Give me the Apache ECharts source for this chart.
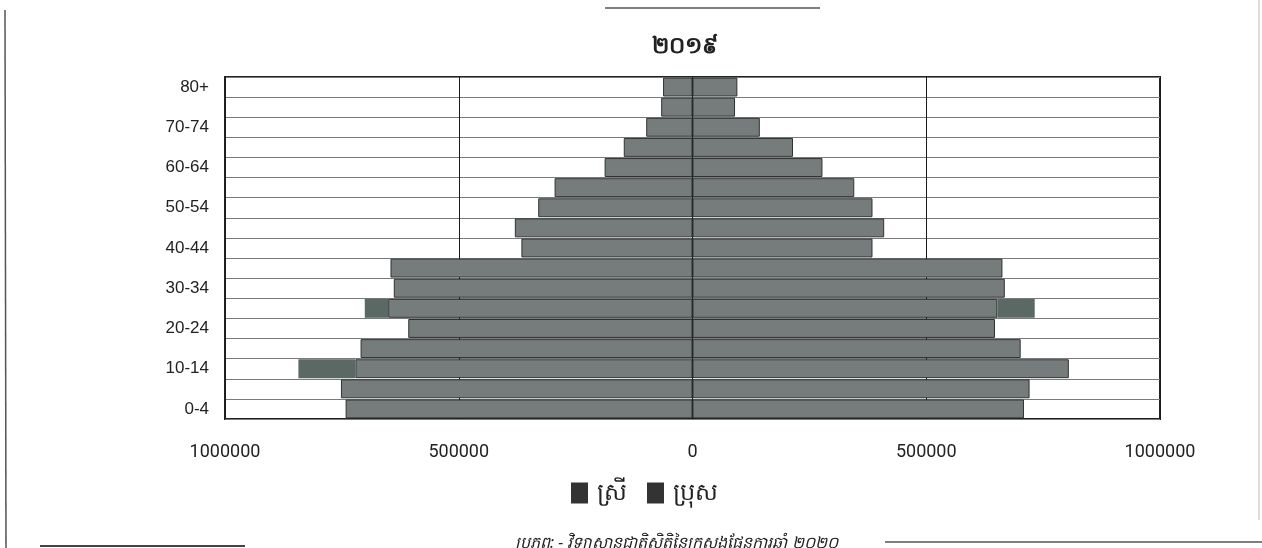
<!DOCTYPE html>
<html>
<head>
<meta charset="utf-8">
<script src="https://cdn.jsdelivr.net/npm/echarts@6/dist/echarts.min.js"></script>
<style>
html,body{margin:0;padding:0;background:#fff;}
#chart{width:1262px;height:548px;}
</style>
</head>
<body>
<div id="chart"></div>
<script>
var titleText = '២០១៩';
var sourceText = 'ប្រភព: - វិទ្យាស្ថានជាតិស្ថិតិនៃក្រសួងផែនការឆ្នាំ ២០២០';
var ageGroups = ['0-4','5-9','10-14','15-19','20-24','25-29','30-34','35-39','40-44','45-49','50-54','55-59','60-64','65-69','70-74','75-79','80+'];
var femaleName = 'ស្រី';
var maleName = 'ប្រុស';
// left side (bottom to top)
var female = [742000,752000,721000,710000,608000,651000,639000,646000,366000,380000,330000,295000,188000,147000,99000,67000,63000];
// darker overlaid segments beyond the left bars
var femaleExtra = [0,0,122000,0,0,50000,0,0,0,0,0,0,0,0,0,0,0];
// right side (bottom to top)
var male = [709000,721000,805000,702000,647000,652000,668000,663000,385000,410000,385000,346000,278000,215000,144000,91000,96000];
var maleExtra = [0,0,0,0,0,80000,0,0,0,0,0,0,0,0,0,0,0];
var xTicks = [-1000000,-500000,0,500000,1000000];

var barStyle = {color:'#767c7b', borderColor:'#2f3332', borderWidth:1};
var extraStyle = {color:'#5a6963', borderWidth:0};

var chart = echarts.init(document.getElementById('chart'));
chart.setOption({
  animation:false,
  backgroundColor:'#ffffff',
  title:{text:titleText, left:680, top:30, textAlign:'center',
    textStyle:{fontSize:23,fontWeight:'bold',color:'#222',fontFamily:'Noto Sans, DejaVu Sans, sans-serif'}},
  legend:{
    data:[{name:femaleName,itemStyle:{color:'#333333',borderWidth:0}},{name:maleName,itemStyle:{color:'#333333',borderWidth:0}}],
    left:566, top:476, icon:'rect', itemWidth:17, itemHeight:21, itemGap:20,
    textStyle:{fontSize:24,color:'#222',padding:[0,0,0,4],fontFamily:'Noto Sans, DejaVu Sans, sans-serif'}
  },
  grid:{left:225,right:102,top:77,bottom:129,show:true,borderColor:'#222',borderWidth:2,backgroundColor:'#fff',containLabel:false},
  xAxis:{
    type:'value', min:xTicks[0], max:xTicks[xTicks.length-1], interval:500000,
    axisLine:{show:false}, axisTick:{show:false},
    splitLine:{show:true,lineStyle:{color:'#1a1a1a',width:1}},
    axisLabel:{margin:24,fontSize:18,color:'#222',fontFamily:'Liberation Sans Narrow, Roboto, sans-serif',
      formatter:function(v){return String(Math.abs(v));}}
  },
  yAxis:{
    type:'category', data:ageGroups,
    axisLine:{show:false}, axisTick:{show:false},
    splitLine:{show:true,interval:0,lineStyle:{color:'#7a7a7a',width:1}},
    axisLabel:{interval:1,margin:16,fontSize:17,color:'#222',fontFamily:'Liberation Sans, Arial, sans-serif'}
  },
  series:[
    {name:femaleName,type:'bar',stack:'L',data:female.map(function(v){return -v;}),itemStyle:barStyle,barCategoryGap:'6%',barGap:'-100%'},
    {name:'f-extra',type:'bar',stack:'L',data:femaleExtra.map(function(v){return v?-v:null;}),itemStyle:extraStyle},
    {name:maleName,type:'bar',stack:'R',data:male,itemStyle:barStyle,barCategoryGap:'6%',barGap:'-100%'},
    {name:'m-extra',type:'bar',stack:'R',data:maleExtra.map(function(v){return v?v:null;}),itemStyle:extraStyle}
  ],
  graphic:[
    {type:'line',shape:{x1:605,y1:8,x2:820,y2:8},style:{stroke:'#555',lineWidth:1.5}},
    {type:'line',shape:{x1:5,y1:10,x2:6,y2:548},style:{stroke:'#555',lineWidth:1.5}},
    {type:'line',shape:{x1:1259,y1:0,x2:1259,y2:520},style:{stroke:'#bbb',lineWidth:1}},
    {type:'line',shape:{x1:40,y1:546,x2:245,y2:546},style:{stroke:'#444',lineWidth:2}},
    {type:'line',shape:{x1:885,y1:542,x2:1262,y2:542},style:{stroke:'#555',lineWidth:1.5}},
    {type:'text',left:515,top:535,style:{text:sourceText,fontSize:16,fontStyle:'italic',fill:'#222',fontFamily:'Noto Sans, DejaVu Sans, sans-serif'}}
  ]
});
</script>
</body>
</html>
